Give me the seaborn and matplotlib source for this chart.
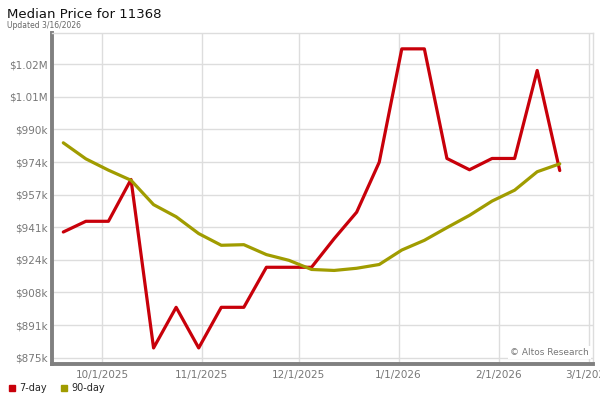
import matplotlib
matplotlib.use("Agg")
import matplotlib.pyplot as plt
import matplotlib.dates as mdates
from matplotlib.lines import Line2D
import pandas as pd
import seaborn as sns

dates = pd.date_range("2025-09-19", periods=23, freq="7D")
day7 = [938.4, 943.8, 943.8, 964.9, 879.9, 900.4, 879.9, 900.4, 900.4, 920.6,
        920.6, 920.6, 935.0, 948.4, 973.6, 1030.8, 1030.8, 975.5, 969.8, 975.5,
        975.5, 1019.9, 969.4]
day90 = [983.4, 975.3, 969.6, 964.5, 952.2, 946.1, 937.6, 931.7, 932.0, 927.0,
         924.1, 919.5, 919.0, 920.1, 922.0, 929.3, 934.2, 940.6, 946.8, 954.0,
         959.5, 968.8, 972.8]
series_names = ["7-day", "90-day"]
colors = ["#c8000a", "#a09c00"]
ytick_vals = [875000 + i * 16450 for i in range(10)]
ytick_labels = ["$875k", "$891k", "$908k", "$924k", "$941k", "$957k", "$974k",
                "$990k", "$1.01M", "$1.02M"]
xtick_dates = pd.to_datetime(["2025-10-01", "2025-11-01", "2025-12-01",
                              "2026-01-01", "2026-02-01", "2026-03-01"])
xtick_labels = ["10/1/2025", "11/1/2025", "12/1/2025", "1/1/2026", "2/1/2026", "3/1/2026"]

df = pd.DataFrame({
    "date": list(dates) * 2,
    "price": [v * 1000 for v in day7] + [v * 1000 for v in day90],
    "series": [series_names[0]] * len(day7) + [series_names[1]] * len(day90),
})

sns.set_style("white")
plt.rcParams["font.family"] = ["DejaVu Sans"]

fig = plt.figure(figsize=(6, 4), dpi=100)
ax = fig.add_axes([0.0867, 0.09, 0.9013, 0.8275])

sns.lineplot(data=df, x="date", y="price", hue="series", palette=colors,
             linewidth=2.3, ax=ax, legend=False, zorder=3)

ax.set_xlim(pd.Timestamp("2025-09-15 12:00"), pd.Timestamp("2026-03-02 06:00"))
ax.set_ylim(871800, 1038800)
ax.set_yticks(ytick_vals)
ax.set_yticklabels(ytick_labels)
ax.set_xticks(xtick_dates)
ax.set_xticklabels(xtick_labels)
ax.set_xlabel("")
ax.set_ylabel("")
ax.grid(True, color="#dddddd", linewidth=1, zorder=0)
ax.set_axisbelow(True)
ax.tick_params(axis="both", length=0, labelsize=7.5, colors="#777777", pad=4)
ax.tick_params(axis="y", pad=3)

for side in ["left", "bottom"]:
    ax.spines[side].set_color("#808080")
    ax.spines[side].set_linewidth(2.8)
for side in ["top", "right"]:
    ax.spines[side].set_color("#dddddd")
    ax.spines[side].set_linewidth(1)

ax.text(0.993, 0.022, "\u00a9 Altos Research", transform=ax.transAxes,
        ha="right", va="bottom", fontsize=6.5, color="#777777",
        bbox=dict(facecolor="white", edgecolor="none", pad=1.5), zorder=5)

fig.text(0.012, 0.965, "Median Price for 11368", fontsize=9.5, color="#111111",
         ha="left", va="center")
fig.text(0.012, 0.937, "Updated 3/16/2026", fontsize=5.5, color="#666666",
         ha="left", va="center")

handles = [Line2D([0], [0], marker="s", linestyle="none", markersize=5,
                  markerfacecolor=c, markeredgecolor=c) for c in colors]
fig.legend(handles, series_names, loc="lower left", bbox_to_anchor=(0.0, 0.0),
           ncol=2, frameon=False, fontsize=7, handletextpad=0.3,
           columnspacing=1.2, borderaxespad=0.3, handlelength=1.0)

fig.savefig("out.png", dpi=100)
